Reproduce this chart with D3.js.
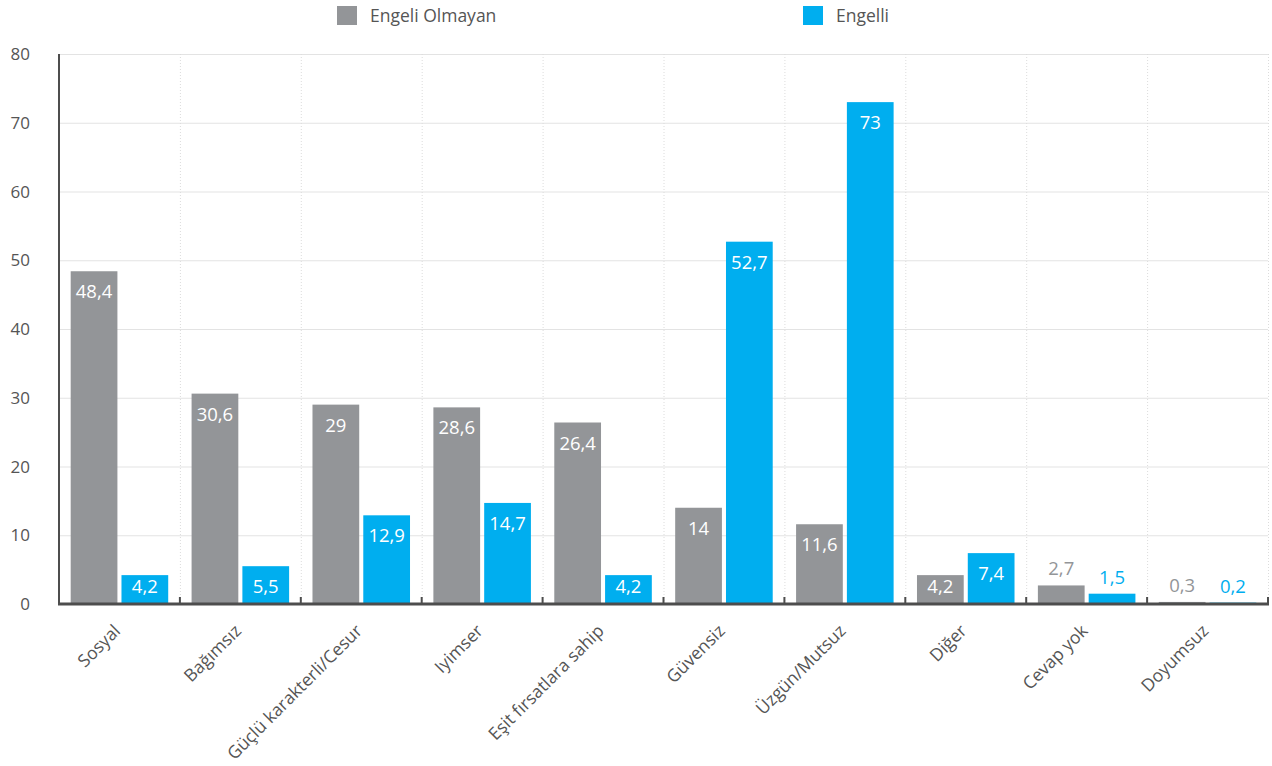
<!DOCTYPE html>
<html><head><meta charset="utf-8">
<script src="https://cdn.jsdelivr.net/npm/d3@7/dist/d3.min.js"></script>
<style>
body{margin:0;background:#fff;}
svg{display:block;font-family:"Open Sans",sans-serif;}
</style></head>
<body><svg id="chart" width="1272" height="766"></svg>
<script>
const categories = ["Sosyal","Bağımsız","Güçlü karakterli/Cesur","Iyimser","Eşit fırsatlara sahip","Güvensiz","Üzgün/Mutsuz","Diğer","Cevap yok","Doyumsuz"];
const engeliOlmayan = [48.4,30.6,29,28.6,26.4,14,11.6,4.2,2.7,0.3];
const engelli = [4.2,5.5,12.9,14.7,4.2,52.7,73,7.4,1.5,0.2];
const seriesNames = ["Engeli Olmayan","Engelli"];
const seriesColors = ["#939598","#00AEEF"];
const yTicks = [0,10,20,30,40,50,60,70,80];

const svg = d3.select("#chart");
const m = {left:59, right:1268, top:54, bottom:604};
const x = d3.scaleBand().domain(categories).range([m.left, m.right]).paddingInner(0).paddingOuter(0);
const xs = d3.scaleBand().domain(seriesNames).range([0, x.bandwidth()]).paddingInner(0.08).paddingOuter(0.23);
const y = d3.scaleLinear().domain([0,80]).range([m.bottom, m.top]);

// horizontal grid
svg.append("g").selectAll("line").data(yTicks.slice(1)).join("line")
  .attr("x1", m.left).attr("x2", m.right)
  .attr("y1", d=>y(d)+0.5).attr("y2", d=>y(d)+0.5)
  .attr("stroke","#e3e3e3").attr("stroke-width",1);
// vertical dotted grid
svg.append("g").selectAll("line").data(categories).join("line")
  .attr("x1", d=>x(d)+x.bandwidth()+0.5).attr("x2", d=>x(d)+x.bandwidth()+0.5)
  .attr("y1", m.top).attr("y2", m.bottom)
  .attr("stroke","#dcdcdc").attr("stroke-width",1).attr("stroke-dasharray","1,2");

// y tick labels
svg.append("g").selectAll("text").data(yTicks).join("text")
  .attr("x", 30).attr("y", d=>y(d)+6)
  .attr("text-anchor","end").attr("font-size",17).attr("fill","#555")
  .text(d=>d);

// bars
const rows = categories.map((c,i)=>({c, vals:[engeliOlmayan[i], engelli[i]]}));
const groups = svg.append("g").selectAll("g").data(rows).join("g")
  .attr("transform", d=>`translate(${x(d.c)},0)`);
groups.selectAll("rect").data(d=>d.vals.map((v,k)=>({v,k}))).join("rect")
  .attr("x", d=>xs(seriesNames[d.k])).attr("width", xs.bandwidth())
  .attr("y", d=>y(d.v)).attr("height", d=>y(0)-y(d.v))
  .attr("fill", d=>seriesColors[d.k]);
groups.selectAll("text").data(d=>d.vals.map((v,k)=>({v,k}))).join("text")
  .attr("x", d=>xs(seriesNames[d.k])+xs.bandwidth()/2)
  .attr("y", d=> d.v < 4 ? y(d.v)-10 : Math.min(y(d.v)+27, 593))
  .attr("text-anchor","middle").attr("font-size",18.5)
  .attr("fill", d=> d.v < 4 ? seriesColors[d.k] : "#fff")
  .text(d=>String(d.v).replace(".",","));

// axes
svg.append("line").attr("x1",m.left).attr("x2",m.left).attr("y1",m.top).attr("y2",m.bottom+1)
  .attr("stroke","#4d4d4d").attr("stroke-width",2);
svg.append("line").attr("x1",m.left-1).attr("x2",m.right+1).attr("y1",m.bottom).attr("y2",m.bottom)
  .attr("stroke","#4d4d4d").attr("stroke-width",3);
svg.append("g").selectAll("line").data(categories).join("line")
  .attr("x1", d=>x(d)+x.bandwidth()).attr("x2", d=>x(d)+x.bandwidth())
  .attr("y1", m.bottom-7).attr("y2", m.bottom)
  .attr("stroke","#4d4d4d").attr("stroke-width",2);

// x labels
svg.append("g").selectAll("text").data(categories).join("text")
  .attr("transform", d=>`translate(${x(d)+x.bandwidth()/2+2},${m.bottom+28}) rotate(-45)`)
  .attr("text-anchor","end").attr("font-size",17.5).attr("fill","#555")
  .text(d=>d);

// legend
const legX = [337, 803];
const leg = svg.append("g").selectAll("g").data(seriesNames).join("g")
  .attr("transform",(d,i)=>`translate(${legX[i]},6)`);
leg.append("rect").attr("width",20).attr("height",19).attr("fill",(d,i)=>seriesColors[i]);
leg.append("text").attr("x",33).attr("y",16).attr("font-size",17.5).attr("fill","#555").text(d=>d);
</script></body></html>
